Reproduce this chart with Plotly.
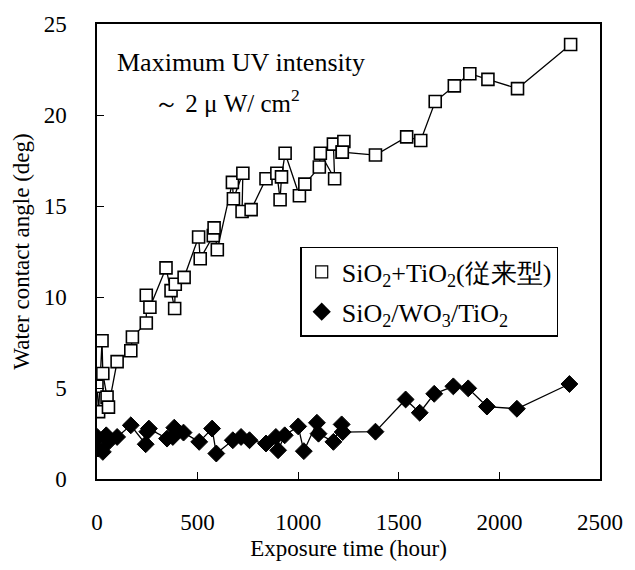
import plotly.graph_objects as go

# SiO2+TiO2 (conventional) - open squares
sq_x = [0, 8, 25, 29, 50, 57, 100, 168, 176, 245, 245, 263, 343, 368, 386, 389, 433,
        505, 513, 578, 582, 598, 673, 678, 725, 721, 766, 840, 894, 910, 917, 935,
        1006, 1033, 1105, 1110, 1181, 1175, 1219, 1227, 1219, 1384, 1539, 1609,
        1681, 1776, 1853, 1943, 2090, 2354]
sq_y = [5.1, 3.7, 7.6, 5.8, 4.5, 3.95, 6.45, 7.05, 7.8, 8.57, 10.1, 9.44, 11.6, 10.35, 9.37, 10.7, 11.08,
        13.3, 12.1, 13.37, 13.8, 12.6, 16.3, 15.4, 16.8, 14.7, 14.8, 16.5, 16.8, 15.34, 16.6, 17.9,
        15.56, 16.2, 17.14, 17.9, 16.5, 18.4, 17.96, 18.54, 17.96, 17.8, 18.8, 18.6,
        20.74, 21.6, 22.27, 21.96, 21.45, 23.87]

# SiO2/WO3/TiO2 - filled diamonds
dm_x = [1, 5, 29, 46, 57, 100, 168, 242, 250, 258, 348, 377, 384, 430, 508, 572, 593,
        675, 716, 758, 840, 889, 900, 933, 1000, 1028, 1093, 1101, 1175, 1216, 1221,
        1384, 1534, 1604, 1676, 1771, 1845, 1938, 2087, 2348]
dm_y = [2.31, 1.67, 1.49, 2.4, 2.04, 2.31, 2.95, 1.91, 2.6, 2.77, 2.22, 2.31, 2.82, 2.55, 2.04, 2.77, 1.4,
        2.13, 2.31, 2.13, 1.95, 2.31, 1.58, 2.4, 2.89, 1.53, 3.09, 2.49, 2.04, 3.0, 2.58,
        2.6, 4.37, 3.64, 4.68, 5.09, 4.98, 3.98, 3.86, 5.22]

x_ticks = [0, 500, 1000, 1500, 2000, 2500]
y_ticks = [0, 5, 10, 15, 20, 25]

name_sq = "SiO<sub>2</sub>+TiO<sub>2</sub>(従来型)"
name_dm = "SiO<sub>2</sub>/WO<sub>3</sub>/TiO<sub>2</sub>"

FONT = "Liberation Serif"

fig = go.Figure()
fig.add_trace(go.Scatter(x=sq_x, y=sq_y, mode="lines+markers", showlegend=False,
                         line=dict(color="black", width=1.3),
                         marker=dict(symbol="square", size=12, color="white",
                                     line=dict(color="black", width=1.6))))
fig.add_trace(go.Scatter(x=dm_x, y=dm_y, mode="lines+markers", showlegend=False,
                         line=dict(color="black", width=1.3),
                         marker=dict(symbol="diamond", size=13, color="black",
                                     line=dict(color="black", width=1))))
# legend-only entries (marker only, as in the reference)
fig.add_trace(go.Scatter(x=[None], y=[None], mode="markers", name=name_sq, legendgroup="a",
                         marker=dict(symbol="square", size=12, color="white",
                                     line=dict(color="black", width=1.2))))
fig.add_trace(go.Scatter(x=[None], y=[None], mode="markers", name=name_dm, legendgroup="b",
                         marker=dict(symbol="diamond", size=14, color="black")))

fig.add_annotation(x=0.035, y=0.915, xref="paper", yref="paper", xanchor="left", yanchor="middle",
                   text="Maximum UV intensity", showarrow=False,
                   font=dict(family=FONT, size=26, color="black"))
fig.add_annotation(x=0.11, y=0.83, xref="paper", yref="paper", xanchor="left", yanchor="middle",
                   text="～ 2 μ W/ cm<sup>2</sup>", showarrow=False,
                   font=dict(family=FONT, size=25, color="black"))

fig.update_layout(
    width=635, height=570,
    margin=dict(l=97, r=28, t=20, b=91),
    paper_bgcolor="white", plot_bgcolor="white",
    font=dict(family=FONT, size=23, color="black"),
    legend=dict(x=0.404, y=0.51, xanchor="left", yanchor="top",
                bordercolor="black", borderwidth=1.5, bgcolor="white",
                font=dict(family=FONT, size=26), itemwidth=30,
                traceorder="grouped", tracegroupgap=3),
    xaxis=dict(range=[0, 2500], tickvals=x_ticks, ticks="inside", ticklen=7,
               tickcolor="black", showline=True, linecolor="black", linewidth=1.5,
               mirror=True, showgrid=False, zeroline=False, ticklabelstandoff=22,
               title=dict(text="Exposure time (hour)", standoff=6,
                          font=dict(family=FONT, size=23))),
    yaxis=dict(range=[0, 25], tickvals=y_ticks, ticks="inside", ticklen=7,
               tickcolor="black", showline=True, linecolor="black", linewidth=1.5,
               mirror=True, showgrid=False, zeroline=False, ticklabelstandoff=24,
               title=dict(text="Water contact angle (deg)", standoff=8,
                          font=dict(family=FONT, size=23))),
)

fig.write_html("out.html")
